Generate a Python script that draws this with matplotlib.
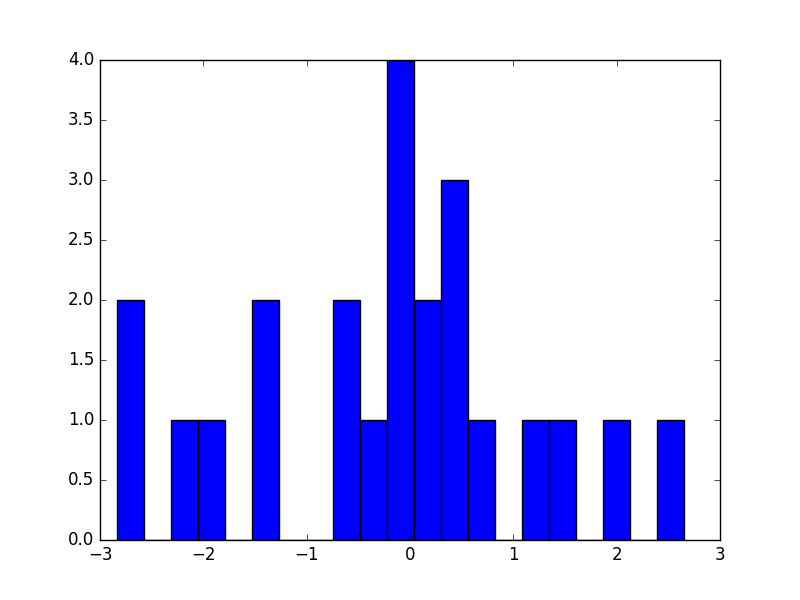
import matplotlib
matplotlib.use("Agg")
import matplotlib.pyplot as plt
import numpy as np

plt.style.use("classic")

# Histogram bin edges (21 bins) and counts
bin_start = -2.833
bin_width = 0.2613
counts = [2, 0, 1, 1, 0, 2, 0, 0, 2, 1, 4, 2, 3, 1, 0, 1, 1, 0, 1, 0, 1]
edges = bin_start + bin_width * np.arange(len(counts) + 1)

fig = plt.figure(figsize=(8, 6), dpi=100)
ax = fig.add_axes([0.125, 0.1, 0.775, 0.8])
ax.hist(edges[:-1], bins=edges, weights=counts, color="blue", edgecolor="black")
ax.set_xlim(-3, 3)
ax.set_ylim(0, 4)
ax.set_yticks(np.arange(0, 4.01, 0.5))
ax.set_xticks(np.arange(-3, 3.01, 1))
fig.savefig("out.png", dpi=100)
